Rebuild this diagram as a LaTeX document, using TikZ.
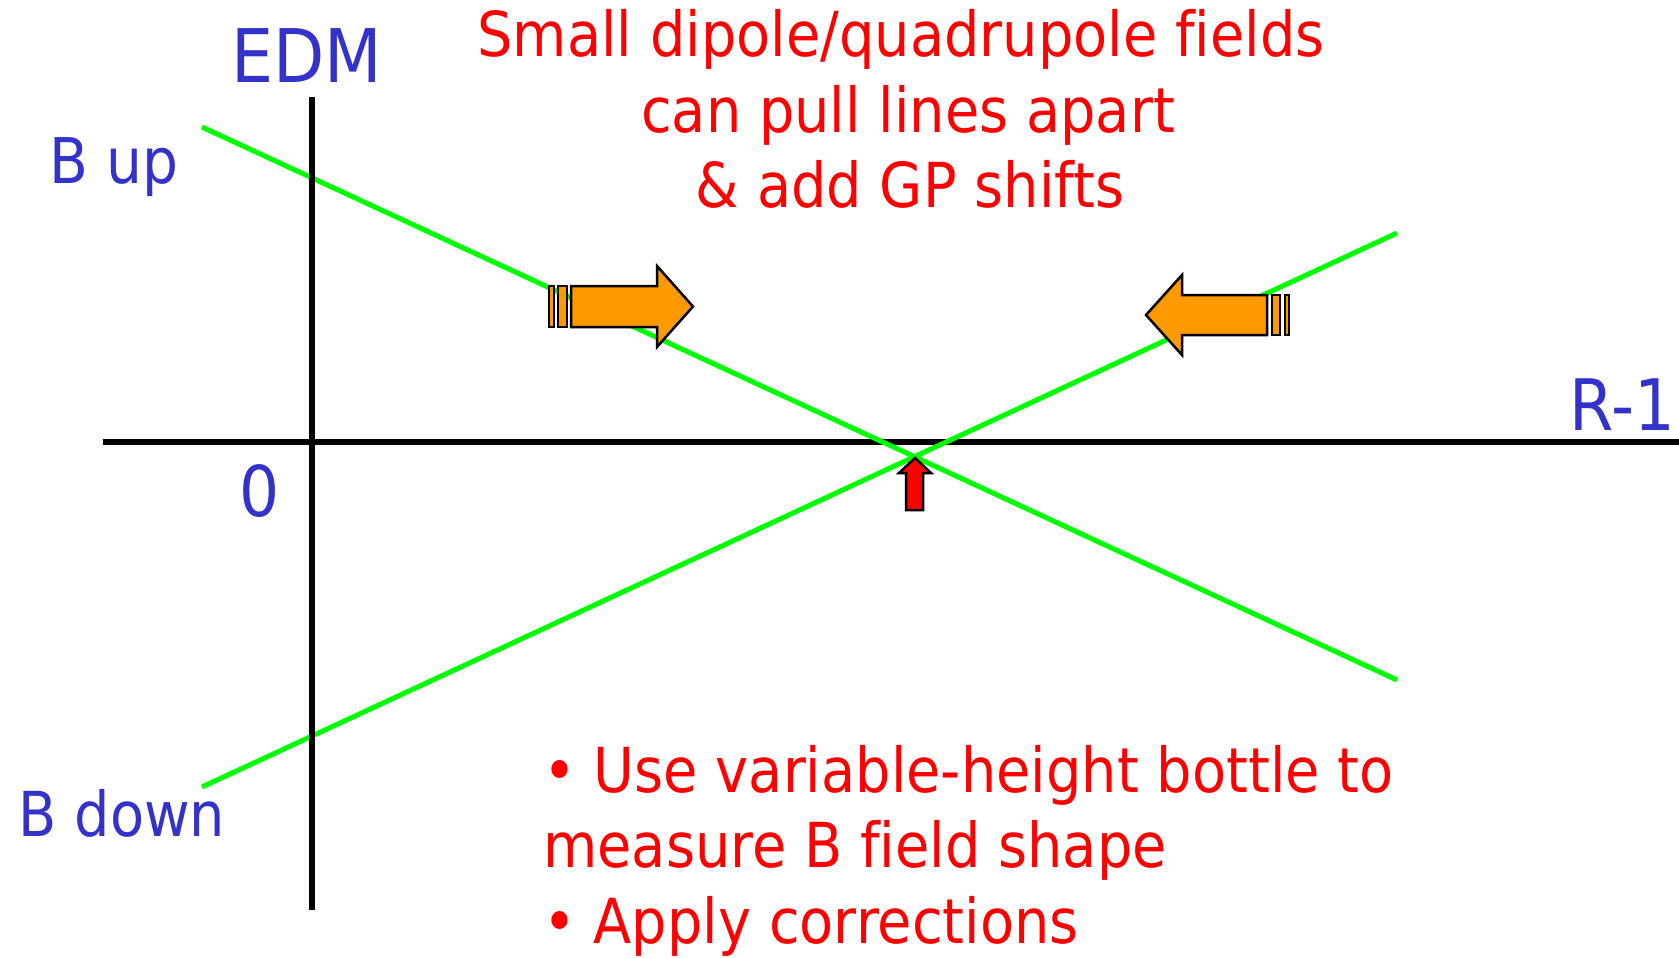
\documentclass[tikz,border=0pt]{standalone}
\usepackage{fontspec}
\setmainfont{DejaVu Sans}[FakeStretch=0.9, Ligatures=NoCommon]
\definecolor{txtblue}{HTML}{3333CC}
\definecolor{txtred}{HTML}{FF0000}
\definecolor{linegreen}{HTML}{00FF00}
\definecolor{arroworange}{HTML}{FF9900}
\tikzset{
  bluetxt/.style={inner sep=0pt, text=txtblue},
  redtxt/.style={inner sep=0pt, text=txtred, font=\fontsize{62}{75}\selectfont},
  axisline/.style={draw=black, line width=5.5pt},
  fieldline/.style={draw=linegreen, line width=5pt},
  fatarrow/.style={draw=black, line width=2.5pt, fill=arroworange, line join=miter},
  redarrow/.style={draw=black, line width=2.5pt, fill=txtred, line join=miter}
}
\begin{document}
\begin{tikzpicture}[x=1pt,y=-1pt]
\useasboundingbox (0,0) rectangle (1679,958);
% axes coordinates
\coordinate (ytop) at (312,97);
\coordinate (ybot) at (312,910);
\coordinate (xl) at (103,442);
\coordinate (xr) at (1679,442);
% field lines
\coordinate (up1) at (202,127);
\coordinate (up2) at (1397,680);
\coordinate (dn1) at (202,787);
\coordinate (dn2) at (1397,233);

\draw[axisline] (xl) -- (xr);
\draw[fieldline] (up1) -- (up2);
\draw[fieldline] (dn1) -- (dn2);
\draw[axisline] (ytop) -- (ybot);

% orange arrow pointing right
\draw[fatarrow] (549,286) rectangle (554,327);
\draw[fatarrow] (558,286) rectangle (567,327);
\draw[fatarrow] (571,286) -- (657,286) -- (657,266) -- (693,306.5) -- (657,347) -- (657,327) -- (571,327) -- cycle;
% orange arrow pointing left
\draw[fatarrow] (1285,295) rectangle (1289,335);
\draw[fatarrow] (1272,295) rectangle (1280,335);
\draw[fatarrow] (1267,295) -- (1182,295) -- (1182,275) -- (1146,315) -- (1182,355) -- (1182,335) -- (1267,335) -- cycle;
% red arrow
\draw[redarrow] (906,510) -- (906,473) -- (899,473) -- (915,458) -- (931,473) -- (923,473) -- (923,510) -- cycle;

% blue labels
\node[bluetxt, anchor=base, font=\fontsize{74}{80}\selectfont] (edm) at (307,82) {EDM};
\node[bluetxt, anchor=base, font=\fontsize{63}{70}\selectfont] (bup) at (114,183) {B up};
\node[bluetxt, anchor=base, font=\fontsize{62}{70}\selectfont] (bdown) at (122,836) {B down};
\node[bluetxt, anchor=base, font=\fontsize{70}{75}\selectfont] (zero) at (259.5,516) {0};
\node[bluetxt, anchor=base, font=\fontsize{71}{75}\selectfont] (rm1) at (1622,430) {R-1};

% red title
\node[redtxt, anchor=base] (t1) at (901,57) {Small dipole/quadrupole fields};
\node[redtxt, anchor=base] (t2) at (908,132) {can pull lines apart};
\node[redtxt, anchor=base] (t3) at (910,207) {\& add GP shifts};

% red bullets
\node[redtxt, anchor=base west] (b1) at (543,792) {• Use variable-height bottle to};
\node[redtxt, anchor=base west] (b2) at (543,867) {measure B field shape};
\node[redtxt, anchor=base west] (b3) at (543,943) {• Apply corrections};
\end{tikzpicture}
\end{document}
